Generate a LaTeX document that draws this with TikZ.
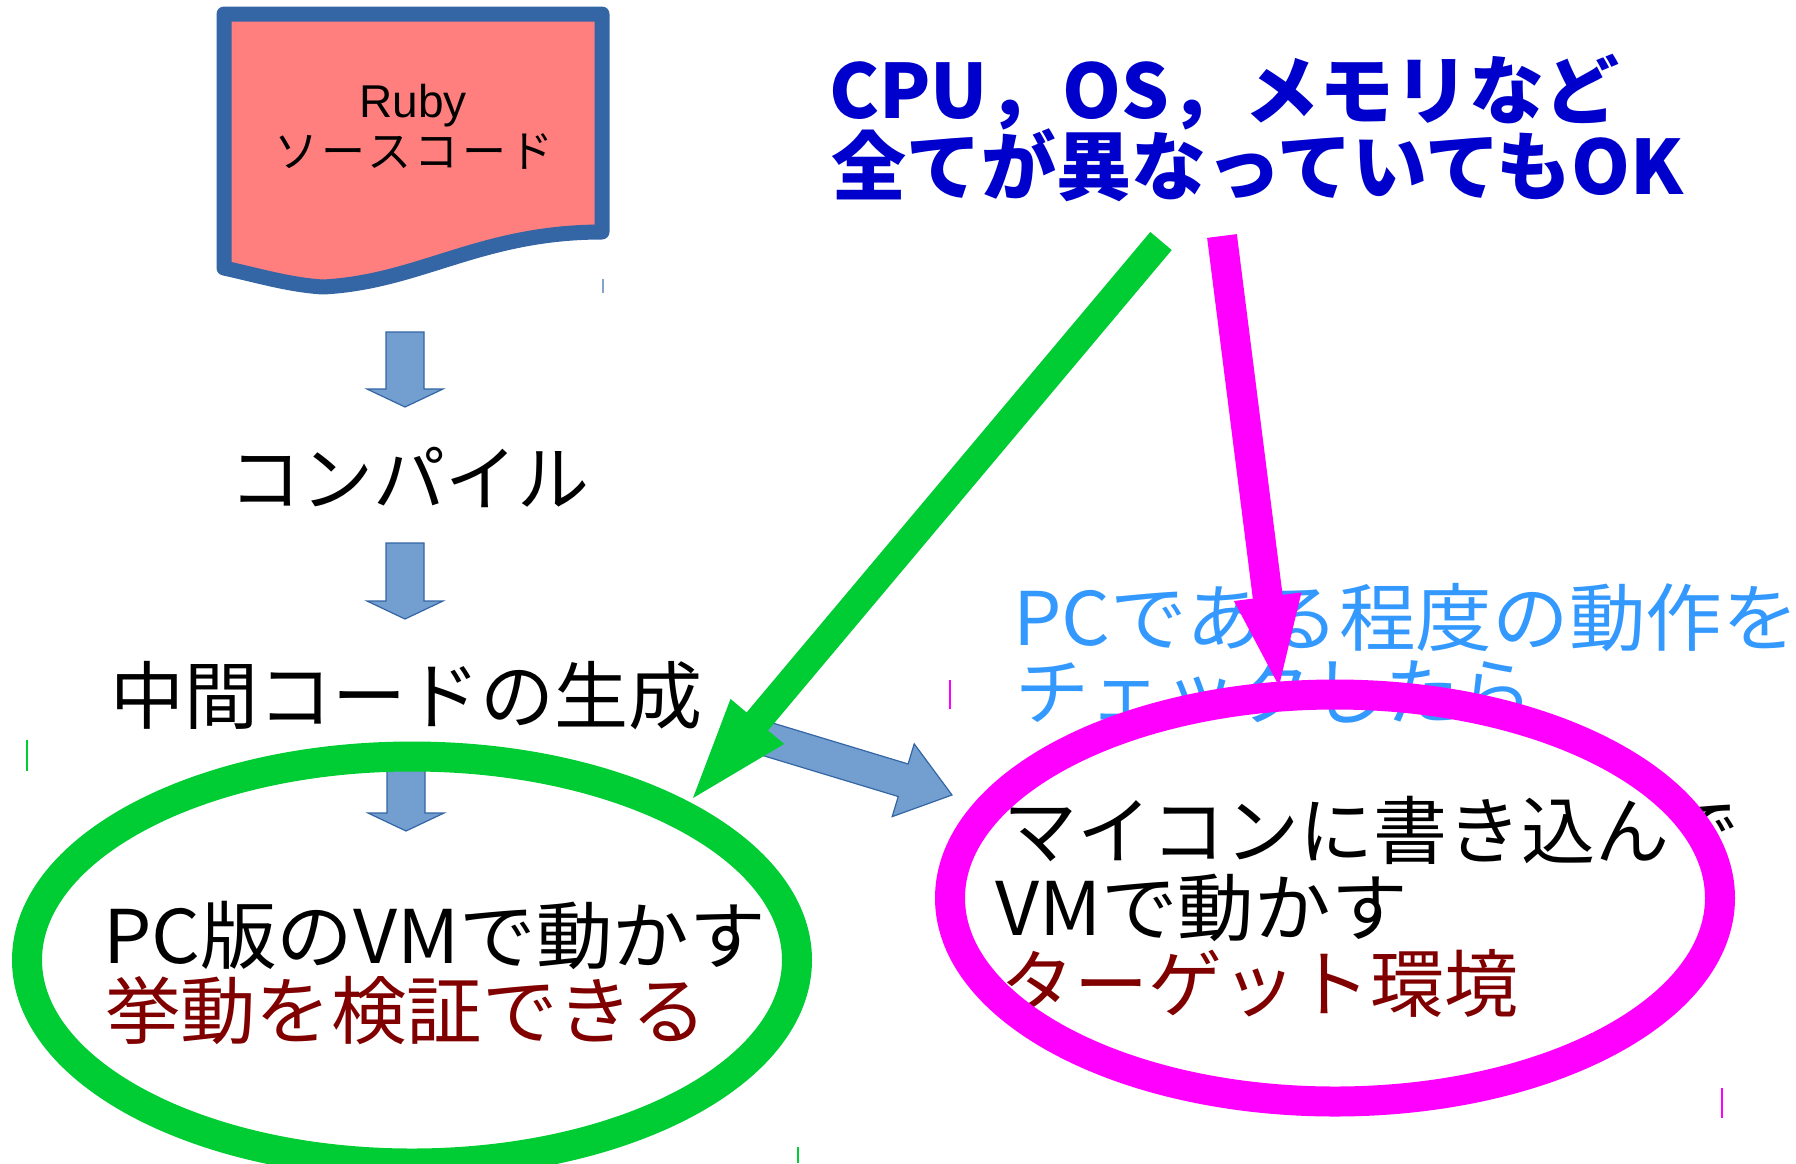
\documentclass[tikz,border=0pt]{standalone}
\usepackage{fontspec}
\setmainfont{Noto Sans CJK JP}
\newfontfamily\latinsans{Liberation Sans}
\newfontfamily\jpwide{Noto Sans CJK JP}[FakeStretch=1.035]
\newfontfamily\jpmid{Noto Sans CJK JP}[FakeStretch=1.02]
\usetikzlibrary{calc,shapes.geometric}

\definecolor{docfill}{HTML}{FF7F7F}
\definecolor{docline}{HTML}{3465A4}
\definecolor{flowfill}{HTML}{729FCF}
\definecolor{headblue}{HTML}{0000CC}
\definecolor{noteblue}{HTML}{3399FF}
\definecolor{darkred}{HTML}{800000}
\definecolor{pcgreen}{HTML}{00CC33}
\definecolor{mcumag}{HTML}{FF00FF}

% block arrow: #1 style, #2 from, #3 to, #4 shaft half width, #5 head half width, #6 head length
\newcommand{\fatarrow}[6]{%
  \coordinate (fa-h) at ($(#3)!#6!(#2)$);
  \path[#1] ($(#2)!#4!90:(#3)$) -- ($(fa-h)!#4!90:(#3)$) -- ($(fa-h)!#5!90:(#3)$)
    -- (#3) -- ($(fa-h)!#5!-90:(#3)$) -- ($(fa-h)!#4!-90:(#3)$) -- ($(#2)!#4!-90:(#3)$) -- cycle;
}

\tikzset{
  txt/.style={inner sep=0pt, outer sep=0pt, font=\fontsize{74}{80}\selectfont},
  widetxt/.style={inner sep=0pt, outer sep=0pt, font=\jpwide\fontsize{74}{80}\selectfont},
  midtxt/.style={inner sep=0pt, outer sep=0pt, font=\jpmid\fontsize{74}{80}\selectfont},
  headline/.style={inner sep=0pt, outer sep=0pt, text=headblue, font=\bfseries\fontsize{75}{80}\selectfont},
  flow/.style={fill=flowfill, draw=docline, line width=1.2pt, line join=miter},
  ring/.style={ellipse, draw, line width=30pt, minimum width=770pt, minimum height=407pt, inner sep=0pt},
  tick/.style={line width=1.5pt},
}

\begin{document}
\begin{tikzpicture}[x=1pt, y=-1pt]
\useasboundingbox (0,0) rectangle (1796,1163);
\clip (0,0) rectangle (1796,1163);

% source document
\path[fill=docfill, draw=docline, line width=15pt, line join=round]
  (224,14) -- (602,14) -- (602,232)
  .. controls (480,232) and (420,282) .. (323,287)
  .. controls (290,285) and (260,276) .. (224,268) -- cycle;
\node[inner sep=0pt, anchor=base, font=\latinsans\fontsize{46}{50}\selectfont] (src) at (413,117) {Ruby};
\node[inner sep=0pt, anchor=base, font=\addfontfeatures{LetterSpace=8}\fontsize{44}{48}\selectfont] (src2) at (414,167) {ソースコード};
\draw[tick, docline!60] (603,279) -- (603,293);

% build steps
\node[inner sep=0pt, outer sep=0pt, font=\fontsize{72}{80}\selectfont, anchor=base] (compile) at (409,505) {コンパイル};
\node[txt, anchor=base] (bytecode) at (406,723) {中間コードの生成};

\coordinate (a1s) at (405,332); \coordinate (a1e) at (405,407);
\coordinate (a2s) at (405,543); \coordinate (a2e) at (405,619);
\coordinate (a3s) at (406,755); \coordinate (a3e) at (406,831);
\fatarrow{flow}{a1s}{a1e}{19pt}{38pt}{18pt}
\fatarrow{flow}{a2s}{a2e}{19pt}{38pt}{18pt}
\fatarrow{flow}{a3s}{a3e}{19pt}{38pt}{18pt}

% PC side
\node[widetxt, anchor=base west] (pc1) at (103,963) {PC版のVMで動かす};
\node[midtxt, anchor=base west, text=darkred] (pc2) at (105,1038) {挙動を検証できる};

% microcontroller side
\node[widetxt, anchor=base west, text=noteblue] (chk1) at (1013,645) {PCである程度の動作を};
\node[txt, anchor=base west, text=noteblue] (chk2) at (1015,719) {チェックしたら};
\node[txt, anchor=base west] (mcu1) at (1003,858) {マイコンに書き込んで};
\node[widetxt, anchor=base west] (mcu2) at (995,935) {VMで動かす};
\node[txt, anchor=base west, text=darkred] (mcu3) at (1000,1011) {ターゲット環境};

% headline
\node[headline, anchor=base west] (diff1) at (829,118) {CPU，OS，メモリなど};
\node[headline, anchor=base west] (diff2) at (831,194) {全てが異なっていてもOK};

% environments
\node[ring, draw=pcgreen] (pcenv) at (412,960) {};
\node[ring, draw=mcumag] (mcuenv) at (1335,898) {};
\draw[tick, pcgreen] (27,740) -- (27,771);
\draw[tick, pcgreen] (798,1147) -- (798,1163);
\draw[tick, mcumag] (950,680) -- (950,709);
\draw[tick, mcumag] (1722,1088) -- (1722,1118);

% transfer to the target
\coordinate (xs) at (757,736); \coordinate (xe) at (952,795);
\fatarrow{flow}{xs}{xe}{17pt}{38pt}{51pt}

% pointers from the headline
\coordinate (gs) at (1161,241); \coordinate (ge) at (693,798);
\fatarrow{fill=pcgreen}{gs}{ge}{14pt}{35pt}{100pt}
\coordinate (ms) at (1222,236); \coordinate (me) at (1279,686);
\fatarrow{fill=mcumag}{ms}{me}{15pt}{34pt}{90pt}
\end{tikzpicture}
\end{document}
